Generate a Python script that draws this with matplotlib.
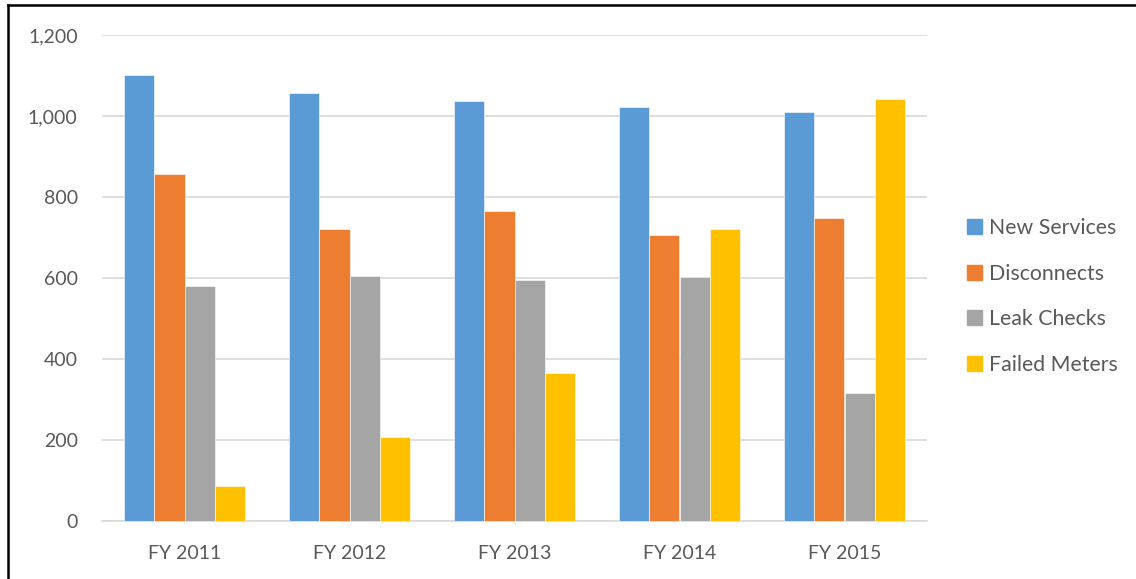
import numpy as np
import matplotlib.pyplot as plt
from matplotlib.lines import Line2D
from matplotlib.ticker import FuncFormatter

# work order counts per fiscal year
years = ['FY 2011', 'FY 2012', 'FY 2013', 'FY 2014', 'FY 2015']
new_services = [1100, 1056, 1038, 1021, 1011]
disconnects = [856, 722, 765, 705, 749]
leak_checks = [581, 604, 595, 603, 315]
failed_meters = [87, 207, 366, 722, 1042]

series = ['New Services', 'Disconnects', 'Leak Checks', 'Failed Meters']
colors = ['#5B9BD5', '#ED7D31', '#A5A5A5', '#FFC000']

plt.rcParams['font.family'] = ['Lato', 'DejaVu Sans']
txt = '#595959'
grid = '#D9D9D9'

fig = plt.figure(figsize=(11.36, 5.79), dpi=100)
ax = fig.add_axes([102/1136, 1 - 521/579, 825/1136, 486/579])

x = np.arange(len(years))
w = 0.182
vals = [new_services, disconnects, leak_checks, failed_meters]
for i in range(4):
    ax.bar(x + (i - 1.5) * w, vals[i], width=w, color=colors[i],
           edgecolor='white', linewidth=0.4, label=series[i], zorder=3)

ax.set_xlim(-0.5, 4.5)
ax.set_ylim(0, 1200)
ax.set_yticks(np.arange(0, 1201, 200))
ax.yaxis.set_major_formatter(FuncFormatter(lambda v, p: f'{int(v):,}'))
ax.set_xticks(x)
ax.set_xticklabels(years)
ax.grid(axis='y', color=grid, linewidth=1.2, zorder=0)
for s in ['top', 'right', 'left']:
    ax.spines[s].set_visible(False)
ax.spines['bottom'].set_color(grid)
ax.spines['bottom'].set_linewidth(1.2)
ax.tick_params(length=0, labelsize=14, colors=txt)
ax.tick_params(axis='y', pad=17.5)
ax.tick_params(axis='x', pad=17)

handles = [plt.Rectangle((0, 0), 1, 1, color=c) for c in colors]
leg = fig.legend(handles, series, loc='center left', bbox_to_anchor=(948/1136, 1 - 296.5/579),
                 frameon=False, fontsize=15.3, handlelength=0.7, handleheight=0.7,
                 handletextpad=0.35, labelspacing=1.2, labelcolor=txt)

# black frame along the left and top edges
fig.add_artist(Line2D([7.5/1136, 7.5/1136], [0, 1 - 5/579], color='black', lw=1.8))
fig.add_artist(Line2D([7.5/1136, 1], [1 - 5/579, 1 - 5/579], color='black', lw=1.8))

fig.savefig('out.png', dpi=100)
